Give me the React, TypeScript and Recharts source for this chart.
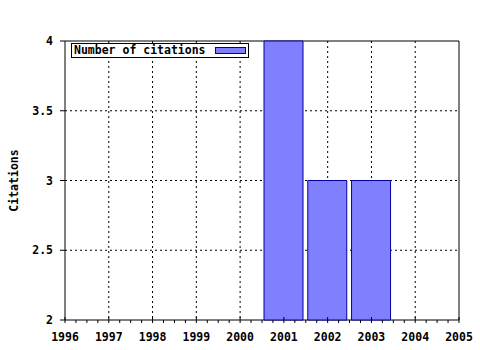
import React from 'react';
import {
  BarChart,
  Bar,
  XAxis,
  YAxis,
  CartesianGrid,
  Legend,
  ReferenceArea
} from 'recharts';

const years = [1996, 1997, 1998, 1999, 2000, 2001, 2002, 2003, 2004, 2005];
const citationYears = [2001, 2002, 2003];
const citationCounts = [4, 3, 3];
const yTicks = [2, 2.5, 3, 3.5, 4];

const data = citationYears.map((year, i) => ({ year, citations: citationCounts[i] }));
// quarter-year minor ticks for the frame
const minorTicks = years.slice(0, -1).flatMap(y => [y, y + 0.25, y + 0.5, y + 0.75]).concat(years[years.length - 1]);

const FONT = '"DejaVu Sans Mono", monospace';

const BottomTick = (props: any) => {
  const { x, y, payload } = props;
  const major = Number.isInteger(payload.value);
  return (
    <g>
      <line x1={x} x2={x} y1={major ? y - 3 : y} y2={y + 3} stroke="#000" />
      {major && (
        <text x={x} y={y + 21} textAnchor="middle" fontFamily={FONT} fontWeight="bold" fontSize={11.5} fill="#000">
          {payload.value}
        </text>
      )}
    </g>
  );
};

const TopTick = (props: any) => {
  const { x, y, payload } = props;
  const major = Number.isInteger(payload.value);
  return <line x1={x} x2={x} y1={major ? y - 3 : y} y2={y + 3} stroke="#000" />;
};

const LegendBox = () => (
  <div
    style={{
      border: '1px solid #000',
      background: '#fff',
      width: 176,
      height: 13,
      display: 'flex',
      alignItems: 'center',
      fontFamily: FONT,
      fontWeight: 'bold',
      fontSize: 11.5,
      color: '#000',
      lineHeight: '13px'
    }}
  >
    <span style={{ marginLeft: 2, whiteSpace: 'pre' }}>Number of citations</span>
    <span
      style={{
        display: 'inline-block',
        marginLeft: 9,
        width: 29,
        height: 5,
        background: '#8080ff',
        border: '1px solid #0000a0'
      }}
    />
  </div>
);

export default function App() {
  return (
    <div style={{ position: 'absolute', left: 0, top: 0, background: '#fff' }}>
      <BarChart width={480} height={350} data={data} margin={{ top: 41, right: 21, bottom: 0, left: 0 }}>
        <XAxis xAxisId="bar" dataKey="year" type="number" domain={[1996, 2005]} ticks={years} height={0} hide />
        <XAxis
          xAxisId="main"
          dataKey="year"
          type="number"
          domain={[1996, 2005]}
          ticks={minorTicks}
          interval={0}
          height={30}
          tickSize={0}
          tickMargin={0}
          tickLine={false}
          axisLine={false}
          tick={<BottomTick />}
        />
        <XAxis
          xAxisId="top"
          orientation="top"
          dataKey="year"
          type="number"
          domain={[1996, 2005]}
          ticks={minorTicks}
          interval={0}
          height={0}
          tickSize={0}
          tickMargin={0}
          tickLine={false}
          axisLine={false}
          tick={<TopTick />}
        />
        <YAxis
          domain={[2, 4]}
          ticks={yTicks}
          width={65}
          tickSize={5}
          tickMargin={7}
          axisLine={false}
          tickLine={{ stroke: '#000' }}
          tick={{ fill: '#000', fontFamily: FONT, fontWeight: 'bold', fontSize: 11.5 }}
          label={{
            content: (p: any) => {
              const cy = p.viewBox.y + p.viewBox.height / 2;
              return (
                <text
                  x={14}
                  y={cy}
                  transform={`rotate(-90, 14, ${cy})`}
                  textAnchor="middle"
                  dominantBaseline="central"
                  fontFamily={FONT}
                  fontWeight="bold"
                  fontSize={11.5}
                  fill="#000"
                >
                  Citations
                </text>
              );
            }
          }}
        />
        <CartesianGrid
          xAxisId="bar"
          stroke="#000"
          strokeDasharray="2 3"
          horizontalValues={[2.5, 3, 3.5]}
          verticalValues={years.slice(1, -1)}
        />
        <Bar
          xAxisId="bar"
          dataKey="citations"
          barSize={39}
          fill="#8080ff"
          stroke="#0000a0"
          strokeWidth={1}
          isAnimationActive={false}
        />
        <ReferenceArea xAxisId="bar" x1={1996} x2={2005} y1={2} y2={4} fill="none" stroke="#000" strokeWidth={1} ifOverflow="visible" />
        <Legend
          layout="horizontal"
          verticalAlign="middle"
          align="center"
          content={<LegendBox />}
          wrapperStyle={{ position: 'absolute', left: 71, top: 43, width: 'auto' }}
        />
      </BarChart>
    </div>
  );
}
